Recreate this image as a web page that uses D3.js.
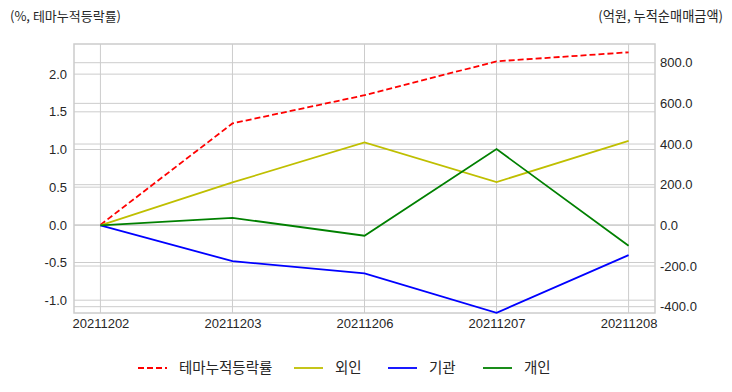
<!DOCTYPE html>
<html><head><meta charset="utf-8">
<script src="https://cdn.jsdelivr.net/npm/d3@7"></script>
<style>
html,body{margin:0;padding:0;background:#fff;}
svg text{font-family:"Liberation Sans","Noto Sans CJK KR",sans-serif;}
.kr{font-family:"Noto Sans CJK KR","Liberation Sans",sans-serif;}
</style></head>
<body><svg id="c" width="732" height="392"></svg>
<script>
const categories = ["20211202","20211203","20211206","20211207","20211208"];
const themeReturn = [0.0, 1.346, 1.72, 2.17, 2.29];
const foreign = [0, 211, 408, 213, 416];
const institution = [0, -176, -236, -430, -146];
const individual = [0, 37, -51, 375, -100];
const leftTicks = [-1.0,-0.5,0.0,0.5,1.0,1.5,2.0];
const rightTicks = [-400,-200,0,200,400,600,800];
const seriesNames = ["테마누적등락률","외인","기관","개인"];
const seriesColors = ["#ff0000","#bfbf00","#0000ff","#008000"];

const svg = d3.select("#c");
const L=74, R=655, T=44, B=313;
const x = d3.scalePoint().domain(categories).range([L,R]).padding(0.2);
const yL = d3.scaleLinear().domain([-1.17,2.40]).range([B,T]);
const yR = d3.scaleLinear().domain([-431,892]).range([B,T]);
const grid="#cccccc";
const fmt = d => d3.format(".1f")(d).replace("\u2212","-");

const g = svg.append("g");
g.selectAll(".gl").data(leftTicks).join("line").attr("x1",L).attr("x2",R)
 .attr("y1",d=>yL(d)).attr("y2",d=>yL(d)).attr("stroke",grid).attr("stroke-width",1);
g.selectAll(".gr").data(rightTicks).join("line").attr("x1",L).attr("x2",R)
 .attr("y1",d=>yR(d)).attr("y2",d=>yR(d)).attr("stroke",grid).attr("stroke-width",1);
g.selectAll(".gx").data(categories).join("line").attr("y1",T).attr("y2",B)
 .attr("x1",d=>x(d)).attr("x2",d=>x(d)).attr("stroke",grid).attr("stroke-width",1);
g.append("rect").attr("x",L).attr("y",T).attr("width",R-L).attr("height",B-T)
 .attr("fill","none").attr("stroke",grid).attr("stroke-width",1.5);

const axL = d3.axisLeft(yL).tickValues(leftTicks).tickFormat(fmt).tickSize(0).tickPadding(7);
const axR = d3.axisRight(yR).tickValues(rightTicks).tickFormat(fmt).tickSize(0).tickPadding(5);
const axB = d3.axisBottom(x).tickSize(0).tickPadding(6);
[ [axL,`translate(${L},0)`], [axR,`translate(${R},0)`], [axB,`translate(0,${B})`] ].forEach(([a,t])=>{
  const ga = svg.append("g").attr("transform",t).call(a);
  ga.select(".domain").remove();
  ga.selectAll("text").attr("font-size",13).attr("fill","#262626")
    .style("font-family","'Liberation Sans',sans-serif");
});

const series = [themeReturn, foreign, institution, individual];
const scales = [yL, yR, yR, yR];
series.forEach((s,i)=>{
  const line = d3.line().x((d,j)=>x(categories[j])).y(d=>scales[i](d));
  svg.append("path").datum(s).attr("d",line).attr("fill","none")
    .attr("stroke",seriesColors[i]).attr("stroke-width",1.8)
    .attr("stroke-dasharray", i===0?"6,3":null);
});

svg.append("text").attr("class","kr").attr("x",10).attr("y",21).attr("font-size",13)
 .attr("fill","#262626").text("(%, 테마누적등락률)");
svg.append("text").attr("class","kr").attr("x",723).attr("y",21).attr("font-size",13.2)
 .attr("text-anchor","end").attr("fill","#262626").text("(억원, 누적순매매금액)");

const legX = [138, 294, 388, 483];
const leg = svg.append("g");
seriesNames.forEach((n,i)=>{
  leg.append("line").attr("x1",legX[i]).attr("x2",legX[i]+29).attr("y1",368).attr("y2",368)
    .attr("stroke",seriesColors[i]).attr("stroke-width",1.8)
    .attr("stroke-dasharray", i===0?"6,3":null);
  leg.append("text").attr("class","kr").attr("x",legX[i]+41).attr("y",373)
    .attr("font-size",14.5).attr("fill","#262626").text(n);
});
</script></body></html>
